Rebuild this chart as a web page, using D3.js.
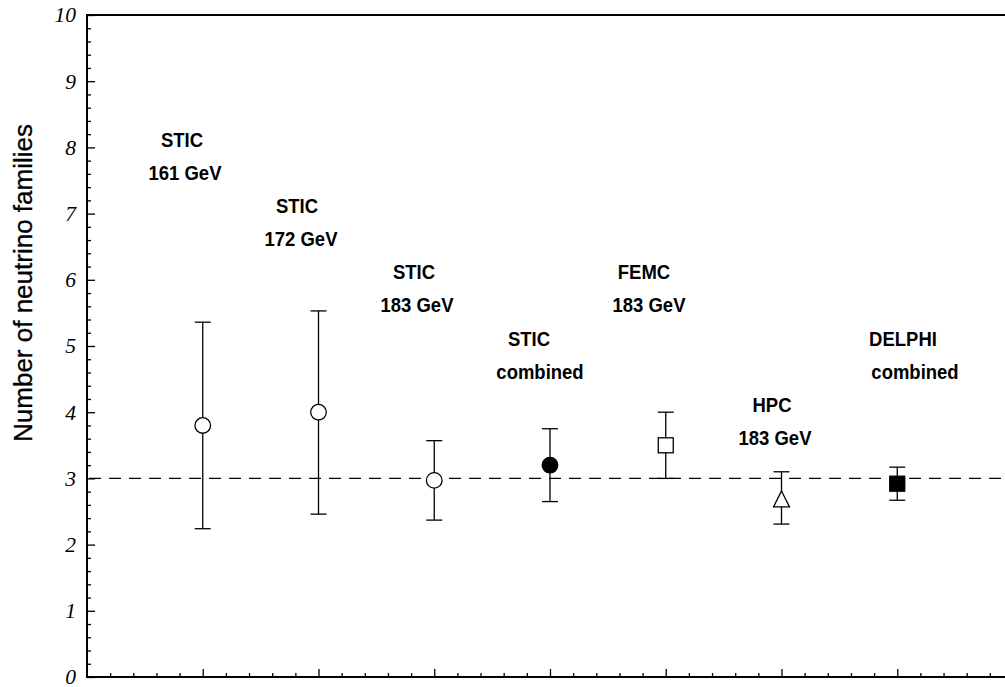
<!DOCTYPE html>
<html>
<head>
<meta charset="utf-8">
<script src="https://cdn.jsdelivr.net/npm/d3@7"></script>
<style>
  html, body { margin: 0; padding: 0; background: #fff; }
  svg { display: block; }
</style>
</head>
<body>
<svg id="chart" width="1005" height="687"></svg>
<script>
// Measurements of the number of light neutrino families
const categories = ["STIC 161 GeV", "STIC 172 GeV", "STIC 183 GeV", "STIC combined",
                    "FEMC 183 GeV", "HPC 183 GeV", "DELPHI combined"];
const positions = [1, 2, 3, 4, 5, 6, 7];
const values   = [3.80, 4.00, 2.97, 3.20, 3.50, 2.69, 2.92];
const errLow   = [1.56, 1.54, 0.60, 0.55, 0.50, 0.38, 0.25];
const errHigh  = [1.56, 1.53, 0.60, 0.55, 0.50, 0.41, 0.25];
const markers  = ["circleOpen", "circleOpen", "circleOpen", "circleFilled",
                  "squareOpen", "triangleOpen", "squareFilled"];
const labelLines = [["STIC", "161 GeV"], ["STIC", "172 GeV"], ["STIC", "183 GeV"],
                    ["STIC", "combined"], ["FEMC", "183 GeV"], ["HPC", "183 GeV"],
                    ["DELPHI", "combined"]];
const yTickValues = [0, 1, 2, 3, 4, 5, 6, 7, 8, 9, 10];
const standardModel = 3;

// layout: label anchor height (axis units) and per-line horizontal centres (px)
const labelLayout = [
  { y: 8, c: [182, 185] },
  { y: 7, c: [297, 301] },
  { y: 6, c: [414, 417] },
  { y: 5, c: [529, 540] },
  { y: 6, c: [644, 649] },
  { y: 4, c: [772, 775] },
  { y: 5, c: [903, 915] }
];

(function draw() {
  const svg = d3.select("#chart");
  const plotLeft = 87, plotTop = 15, plotBottom = 677;
  const step = 115.75;
  const xEnd = 1005;

  const x = d3.scaleLinear().domain([0, 8]).range([plotLeft, plotLeft + 8 * step]);
  const y = d3.scaleLinear().domain([0, 10]).range([plotBottom, plotTop]);

  // frame lines
  const frame = svg.append("g").attr("stroke", "#000").attr("stroke-width", 2).attr("fill", "none");
  frame.append("line").attr("x1", plotLeft).attr("x2", plotLeft).attr("y1", plotTop - 1).attr("y2", plotBottom + 1);
  frame.append("line").attr("x1", plotLeft).attr("x2", xEnd).attr("y1", plotBottom).attr("y2", plotBottom);
  frame.append("line").attr("x1", plotLeft).attr("x2", xEnd).attr("y1", plotTop).attr("y2", plotTop);

  // y ticks (inside) with minor ticks every 0.2
  const yMinor = d3.range(0, 10.001, 0.2).filter(v => Math.abs(v - Math.round(v)) > 1e-6);
  const yAxisMajor = d3.axisRight(y).tickValues(yTickValues).tickSize(8).tickFormat("");
  const yAxisMinor = d3.axisRight(y).tickValues(yMinor).tickSize(4).tickFormat("");
  [yAxisMajor, yAxisMinor].forEach(ax => {
    const g = svg.append("g").attr("transform", `translate(${plotLeft},0)`).call(ax);
    g.select(".domain").remove();
    g.selectAll(".tick line").attr("stroke", "#000").attr("stroke-width", 1.3);
  });

  // y tick labels, italic serif
  svg.append("g").selectAll("text").data(yTickValues).join("text")
    .attr("x", 76)
    .attr("y", d => y(d))
    .attr("dy", "0.34em")
    .attr("text-anchor", "end")
    .attr("font-family", "'Liberation Serif', 'DejaVu Serif', serif")
    .attr("font-style", "italic")
    .attr("font-size", 21.5)
    .text(d => d);

  // x ticks (inside): majors at measurement positions, minors at fifths
  const xMajor = d3.range(1, 9);
  const xMinor = d3.range(0, 8.001, 0.2).filter(v => Math.abs(v - Math.round(v)) > 1e-6);
  const xAxisMajor = d3.axisTop(x).tickValues(xMajor).tickSize(8).tickFormat("");
  const xAxisMinor = d3.axisTop(x).tickValues(xMinor).tickSize(4).tickFormat("");
  [xAxisMajor, xAxisMinor].forEach(ax => {
    const g = svg.append("g").attr("transform", `translate(0,${plotBottom})`).call(ax);
    g.select(".domain").remove();
    g.selectAll(".tick line").attr("stroke", "#000").attr("stroke-width", 1.3);
  });

  // y-axis title
  svg.append("text")
    .attr("transform", `translate(32,${(123 + 443) / 2}) rotate(-90)`)
    .attr("text-anchor", "middle")
    .attr("font-family", "'Liberation Sans', Arial, sans-serif")
    .attr("font-size", 26)
    .attr("stroke", "#000")
    .attr("stroke-width", 0.3)
    .text("Number of neutrino families");

  // Standard Model reference line
  svg.append("line")
    .attr("x1", plotLeft + 2).attr("x2", xEnd)
    .attr("y1", y(standardModel)).attr("y2", y(standardModel))
    .attr("stroke", "#000").attr("stroke-width", 1.2)
    .attr("stroke-dasharray", "12,8");

  // error bars
  const points = positions.map((p, i) => ({
    p, v: values[i], lo: values[i] - errLow[i], hi: values[i] + errHigh[i], m: markers[i]
  }));
  const eb = svg.append("g").attr("stroke", "#000").attr("stroke-width", 1.3);
  points.forEach(d => {
    eb.append("line").attr("x1", x(d.p)).attr("x2", x(d.p)).attr("y1", y(d.lo)).attr("y2", y(d.hi));
    eb.append("line").attr("x1", x(d.p) - 8).attr("x2", x(d.p) + 8).attr("y1", y(d.lo)).attr("y2", y(d.lo));
    eb.append("line").attr("x1", x(d.p) - 8).attr("x2", x(d.p) + 8).attr("y1", y(d.hi)).attr("y2", y(d.hi));
  });

  // markers
  const mk = svg.append("g").attr("stroke", "#000").attr("stroke-width", 1.3);
  points.forEach(d => {
    const cx = x(d.p), cy = y(d.v);
    if (d.m === "circleOpen" || d.m === "circleFilled") {
      mk.append("circle").attr("cx", cx).attr("cy", cy).attr("r", 7.8)
        .attr("fill", d.m === "circleFilled" ? "#000" : "#fff");
    } else if (d.m === "squareOpen" || d.m === "squareFilled") {
      mk.append("rect").attr("x", cx - 7.5).attr("y", cy - 7.5).attr("width", 15).attr("height", 15)
        .attr("fill", d.m === "squareFilled" ? "#000" : "#fff");
    } else if (d.m === "triangleOpen") {
      mk.append("path")
        .attr("d", `M${cx},${cy - 8}L${cx + 8},${cy + 8}L${cx - 8},${cy + 8}Z`)
        .attr("fill", "#fff");
    }
  });

  // measurement labels (slightly tall lettering)
  const lg = svg.append("g")
    .attr("font-family", "'Liberation Sans', Arial, sans-serif")
    .attr("font-weight", "bold")
    .attr("font-size", 18.5)
    .attr("text-anchor", "middle");
  labelLines.forEach((lines, i) => {
    const L = labelLayout[i];
    lines.forEach((t, j) => {
      lg.append("text")
        .attr("transform", `translate(${L.c[j]},${y(L.y - 0.5 * j) - 0.5}) scale(1,1.12)`)
        .text(t);
    });
  });
})();
</script>
</body>
</html>
